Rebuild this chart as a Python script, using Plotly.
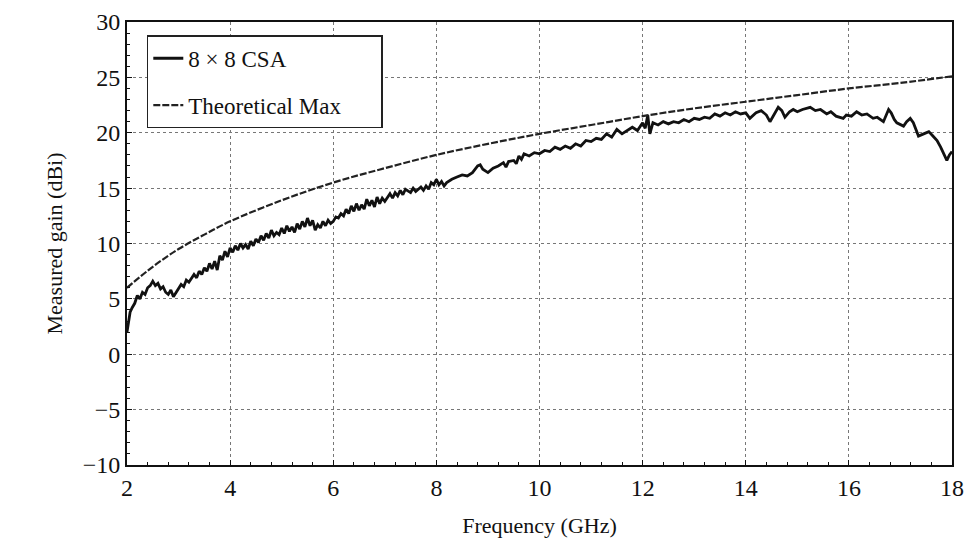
import plotly.graph_objects as go

# ---- data ----
theory_freq = [2, 2.5, 3, 3.5, 4, 5, 6, 7, 8, 9, 10, 11, 12, 13, 14, 15, 16, 17, 18]
theory_gain = [6.0, 7.9, 9.5, 10.8, 12.0, 13.9, 15.5, 16.8, 18.0, 19.0, 19.9, 20.7,
               21.5, 22.2, 22.8, 23.4, 24.0, 24.5, 25.1]

meas_freq = [2.00, 2.03, 2.06, 2.10, 2.15, 2.20, 2.25, 2.30, 2.35, 2.40, 2.45, 2.50, 2.55,
             2.60, 2.65, 2.70, 2.75, 2.80, 2.85, 2.90, 2.95, 3.00, 3.05, 3.10, 3.15, 3.20,
             3.30, 3.35, 3.40, 3.45, 3.50, 3.55, 3.60, 3.65, 3.70, 3.75, 3.80, 3.85, 3.90,
             3.95, 4.00, 4.05, 4.10, 4.15, 4.20, 4.25, 4.30, 4.35, 4.40, 4.45, 4.50, 4.55,
             4.60, 4.65, 4.70, 4.75, 4.80, 4.85, 4.90, 4.95, 5.00, 5.05, 5.10, 5.15, 5.20,
             5.25, 5.30, 5.35, 5.40, 5.45, 5.50, 5.55, 5.60, 5.65, 5.70, 5.75, 5.80, 5.85,
             5.90, 5.95, 6.00, 6.05, 6.10, 6.15, 6.20, 6.25, 6.30, 6.35, 6.40, 6.45, 6.50,
             6.55, 6.60, 6.65, 6.70, 6.75, 6.80, 6.85, 6.90, 6.95, 7.00, 7.10, 7.15, 7.20,
             7.25, 7.30, 7.35, 7.40, 7.50, 7.55, 7.60, 7.70, 7.75, 7.80, 7.85, 7.90, 7.95,
             8.00, 8.05, 8.10, 8.15, 8.20, 8.30, 8.40, 8.50, 8.60, 8.70, 8.80, 8.85, 8.90,
             9.00, 9.10, 9.20, 9.30, 9.35, 9.40, 9.50, 9.55, 9.60, 9.65, 9.70, 9.80, 9.90,
             10.00, 10.10, 10.20, 10.30, 10.40, 10.50, 10.60, 10.70, 10.80, 10.90, 11.00,
             11.10, 11.20, 11.30, 11.40, 11.50, 11.60, 11.70, 11.80, 11.90, 12.00, 12.05,
             12.10, 12.14, 12.20, 12.30, 12.40, 12.50, 12.60, 12.70, 12.80, 12.90, 13.00,
             13.10, 13.20, 13.30, 13.40, 13.50, 13.60, 13.70, 13.80, 13.90, 14.00, 14.08,
             14.20, 14.30, 14.40, 14.47, 14.55, 14.63, 14.70, 14.76, 14.85, 14.92, 15.00,
             15.10, 15.25, 15.35, 15.45, 15.57, 15.65, 15.75, 15.89, 15.95, 16.05, 16.15,
             16.25, 16.35, 16.47, 16.55, 16.67, 16.72, 16.77, 16.82, 16.88, 16.93, 17.00,
             17.06, 17.12, 17.19, 17.25, 17.30, 17.35, 17.45, 17.55, 17.63, 17.71, 17.78,
             17.84, 17.90, 17.95, 18.00]
meas_gain = [2.0, 3.0, 3.8, 4.2, 4.6, 5.3, 5.0, 5.6, 5.4, 6.0, 6.2, 6.6, 6.2,
             6.4, 5.9, 6.1, 5.6, 5.4, 5.8, 5.2, 5.6, 5.9, 6.3, 6.1, 6.7, 6.5,
             7.2, 6.9, 7.5, 7.2, 7.8, 7.5, 8.2, 7.7, 8.4, 7.6, 8.9, 8.5, 9.3,
             8.8, 9.6, 9.2, 9.8, 9.4, 10.0, 9.6, 9.9, 9.5, 10.2, 9.8, 10.4, 10.1,
             10.7, 10.3, 10.9, 10.5, 11.2, 10.7, 11.0, 10.8, 11.4, 10.9, 11.6, 11.1, 11.5,
             11.0, 11.8, 11.3, 12.0, 11.5, 12.3, 11.6, 12.1, 11.2, 11.7, 11.4, 12.0, 11.6,
             12.1, 11.8, 12.0, 12.4, 12.3, 12.7, 12.5, 13.1, 12.7, 13.4, 12.9, 13.6, 13.0,
             13.5, 13.1, 14.0, 13.4, 13.9, 13.3, 14.2, 13.6, 14.1, 13.8, 14.5, 14.1, 14.6,
             14.3, 14.8, 14.4, 14.9, 14.6, 15.0, 14.7, 15.1, 14.8, 15.2, 14.9, 15.5, 15.3,
             15.8, 15.3, 15.6, 15.2, 15.5, 15.8, 16.0, 16.2, 16.1, 16.4, 17.0, 17.1, 16.7,
             16.4, 16.8, 17.0, 17.3, 16.9, 17.4, 17.5, 17.2, 17.9, 17.6, 18.1, 17.9, 18.2,
             18.1, 18.4, 18.3, 18.7, 18.5, 18.8, 18.6, 19.0, 18.8, 19.3, 19.2,
             19.5, 19.4, 19.9, 19.6, 20.3, 19.9, 20.2, 20.5, 20.2, 20.9, 20.4,
             21.6, 19.9, 20.9, 20.7, 21.0, 20.8, 21.0, 20.9, 21.2, 21.0, 21.3,
             21.2, 21.4, 21.3, 21.7, 21.5, 21.8, 21.6, 21.9, 21.7, 21.8, 21.3,
             21.8, 22.0, 21.6, 21.0, 21.6, 22.3, 22.0, 21.4, 21.9, 22.1, 21.9,
             22.1, 22.3, 22.0, 22.1, 21.7, 21.9, 21.5, 21.3, 21.6, 21.5, 21.9,
             21.6, 21.7, 21.3, 21.4, 21.0, 21.6, 22.1, 21.8, 21.2, 20.9, 20.7,
             20.6, 21.0, 21.3, 20.9, 20.3, 19.7, 19.9, 20.1, 19.7, 19.3, 18.7,
             18.1, 17.5, 18.0, 18.3]

x_ticks = [2, 4, 6, 8, 10, 12, 14, 16, 18]
y_ticks = [-10, -5, 0, 5, 10, 15, 20, 25, 30]
y_labels = ["\u221210", "\u22125", "0", "5", "10", "15", "20", "25", "30"]

FONT = "Liberation Serif, Times New Roman, serif"

fig = go.Figure()
fig.add_trace(go.Scatter(
    x=meas_freq, y=meas_gain, mode="lines", name="8 \u00d7 8 CSA",
    line=dict(color="#111111", width=2.8), legendgroup="a"))
fig.add_trace(go.Scatter(
    x=theory_freq, y=theory_gain, mode="lines",
    name="Theoretical Max" + "\u00a0" * 6,
    line=dict(color="#222222", width=2.2, dash="7px,2px", shape="spline"),
    legendgroup="b"))

axis_common = dict(
    showline=True, linecolor="#111111", linewidth=2, mirror=True,
    showgrid=True, gridcolor="#777777", griddash="dot", gridwidth=1.3,
    ticks="inside", ticklen=5, tickcolor="#111111", tickwidth=1,
    zeroline=False, automargin=False,
    tickfont=dict(family=FONT, size=24, color="#111111"),
)

fig.update_xaxes(
    range=[2, 18], tickvals=x_ticks, ticktext=[str(v) for v in x_ticks],
    title=dict(text="Frequency (GHz)", font=dict(family=FONT, size=22, color="#111111"),
               standoff=18),
    minor=dict(dtick=0.4, ticks="inside", ticklen=3, tickcolor="#111111", showgrid=False),
    **axis_common)
fig.update_yaxes(
    range=[-10, 30], tickvals=y_ticks, ticktext=y_labels,
    title=dict(text="Measured gain (dBi)", font=dict(family=FONT, size=22, color="#111111"),
               standoff=14),
    minor=dict(dtick=1, ticks="inside", ticklen=3, tickcolor="#111111", showgrid=False),
    **axis_common)

fig.update_layout(
    width=970, height=548,
    margin=dict(l=127, r=18, t=22, b=83),
    paper_bgcolor="white", plot_bgcolor="white",
    font=dict(family=FONT, color="#111111"),
    legend=dict(
        x=0.024, y=0.97, xanchor="left", yanchor="top",
        bgcolor="white", bordercolor="#222222", borderwidth=1.5,
        font=dict(family=FONT, size=23, color="#111111"),
        tracegroupgap=14, traceorder="grouped",
        itemwidth=30,
    ),
    showlegend=True,
)

fig.write_html(
    "out.html",
    config={"displayModeBar": False},
    post_script="document.body.style.margin='0';document.body.style.overflow='hidden';",
)
